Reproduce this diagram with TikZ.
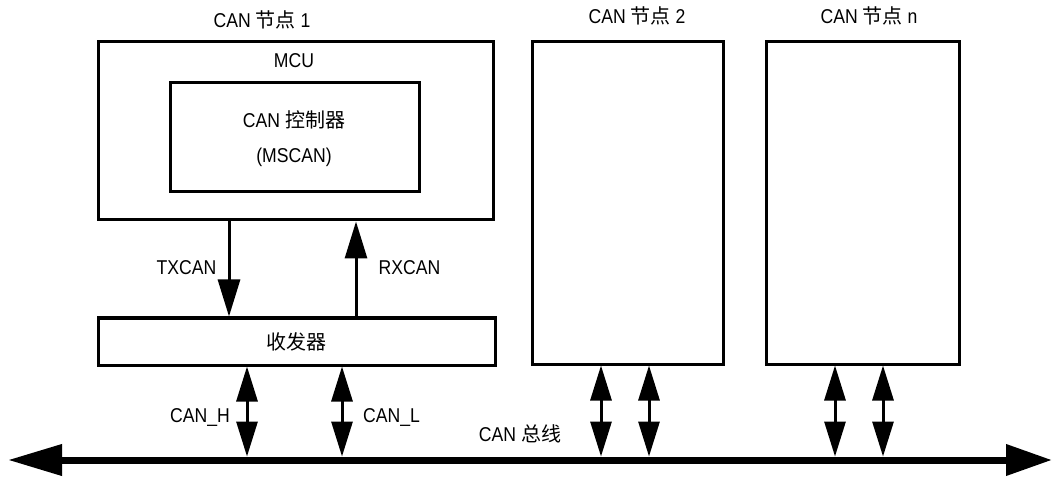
\documentclass[tikz,border=0pt]{standalone}
\usepackage{fontspec}
\setmainfont[FakeStretch=0.88]{Liberation Sans}
\newfontfamily\cjk{Noto Sans CJK SC}
\usetikzlibrary{arrows.meta}
\begin{document}
\begin{tikzpicture}[x=1pt,y=-1pt,
  box/.style={draw, line width=3pt, inner sep=0pt},
  txt/.style={font=\fontsize{20pt}{24pt}\selectfont, inner sep=0pt, text height=14.3pt, text depth=0pt},
  arr/.style={line width=3pt, -{Triangle[length=37pt,width=22pt]}},
  darr/.style={line width=3pt, {Triangle[length=35pt,width=21pt]}-{Triangle[length=35pt,width=21pt]}},
  busline/.style={line width=7pt, {Triangle[length=54pt,width=30pt]}-{Triangle[length=46pt,width=30pt]}}]
\useasboundingbox (0,0) rectangle (1052,478);

% boxes
\node[box, minimum width=395pt, minimum height=178pt] (mcu) at (295.5,131) {};
\node[box, minimum width=249pt, minimum height=109pt] (ctrl) at (294.5,137.5) {};
\node[box, minimum width=397pt, minimum height=47pt] (trx) at (296.5,341.5) {};
\node[box, minimum width=191pt, minimum height=322pt] (n2) at (627.5,203) {};
\node[box, minimum width=193pt, minimum height=322pt] (nn) at (862.5,203) {};

% texts
\node[txt] (l1) at (262,20.5) {CAN {\cjk 节点} 1};
\node[txt] (l2) at (637,16.5) {CAN {\cjk 节点} 2};
\node[txt] (ln) at (869,16.5) {CAN {\cjk 节点} n};
\node[txt] (mcut) at (294,60) {MCU};
\node[txt] (c1) at (294,120.5) {CAN {\cjk 控制器}};
\node[txt] (c2) at (294,155.5) {(MSCAN)};
\node[txt] (trxt) at (296,342) {\cjk 收发器};
\node[txt] (txl) at (186.5,267.5) {TXCAN};
\node[txt] (rxl) at (409.5,267.5) {RXCAN};
\node[txt] (hl) at (200,415.5) {CAN\_H};
\node[txt] (ll) at (391.5,415.5) {CAN\_L};
\node[txt] (busl) at (520,434.5) {CAN {\cjk 总线}};

% x positions
\coordinate (tx) at (229,0);
\coordinate (rx) at (356,0);
\coordinate (h1) at (247,0);
\coordinate (l1x) at (342,0);
\coordinate (h2) at (601,0);
\coordinate (l2x) at (649,0);
\coordinate (hn) at (835,0);
\coordinate (lnx) at (883,0);
\coordinate (bt) at (0,456.5);
\coordinate (busL) at (8,460);
\coordinate (busR) at (1052,460);

% bus
\draw[busline] (busL) -- (busR);

% connectors
\draw[arr] (mcu.south -| tx) -- (trx.north -| tx);
\draw[arr] (trx.north -| rx) -- (mcu.south -| rx);
\draw[darr] (trx.south -| h1) -- (bt -| h1);
\draw[darr] (trx.south -| l1x) -- (bt -| l1x);
\draw[darr] (n2.south -| h2) -- (bt -| h2);
\draw[darr] (n2.south -| l2x) -- (bt -| l2x);
\draw[darr] (nn.south -| hn) -- (bt -| hn);
\draw[darr] (nn.south -| lnx) -- (bt -| lnx);
\end{tikzpicture}
\end{document}
